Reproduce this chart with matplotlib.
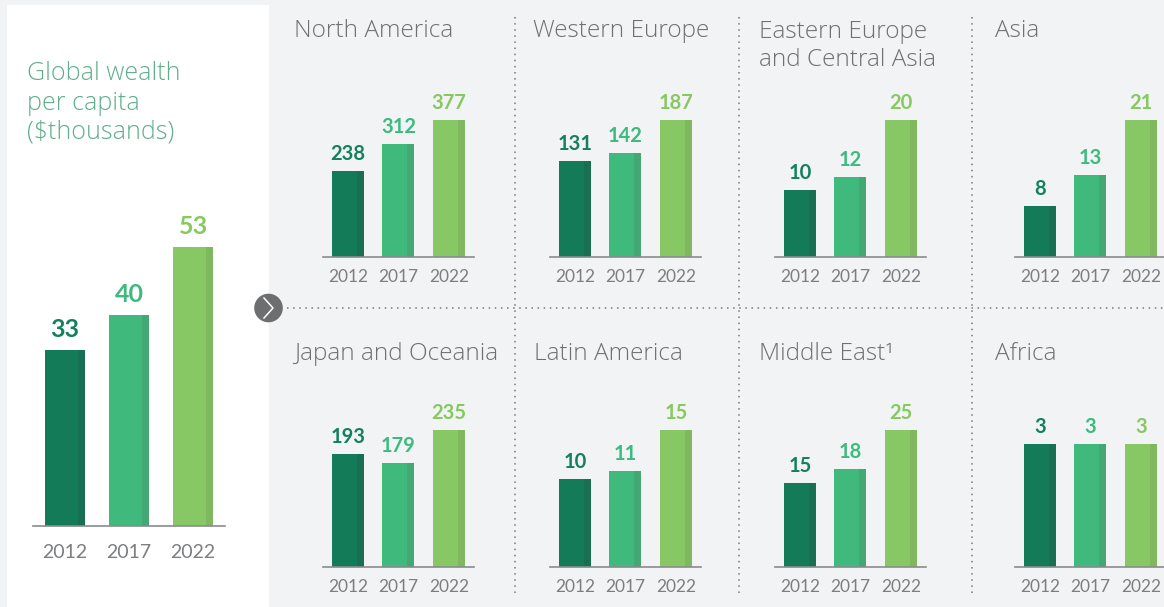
import matplotlib
matplotlib.use("Agg")
import matplotlib.pyplot as plt

plt.rcParams['font.family'] = ['Lato', 'DejaVu Sans']

W, H = 1164, 607
BG = '#f1f3f5'
COLORS = ['#147b58', '#3fba7c', '#88c864']
SHADES = ['#196f52', '#43a874', '#80b85f']
LABEL_COLORS = ['#14805c', '#3dbb7f', '#85c95f']
TICK = '#7c7e80'
TITLE = '#6f7072'
LIGHT = ['Open Sans', 'DejaVu Sans']

years = ['2012', '2017', '2022']

global_vals = [33.4, 40.1, 53]
north_america = [238, 312, 377]
western_europe = [131, 142, 187]
eastern_europe = [9.8, 11.7, 20]
asia = [7.8, 12.6, 21]
japan_oceania = [193, 179, 235]
latin_america = [9.6, 10.51, 15]
middle_east = [15.3, 17.8, 25]
africa = [3, 3, 3]

panels = [
    (north_america, 332, 257, 137, 'North America', 294, 31),
    (western_europe, 559, 257, 137, 'Western Europe', 533, 31),
    (eastern_europe, 784, 257, 137, 'Eastern Europe\nand Central Asia', 759, 46),
    (asia, 1024, 257, 137, 'Asia', 995, 31),
    (japan_oceania, 332, 567, 137, 'Japan and Oceania', 294, 354),
    (latin_america, 559, 567, 137, 'Latin America', 534, 354),
    (middle_east, 784, 567, 137, 'Middle East\u00b9', 759, 354),
    (africa, 1024, 567, 123, 'Africa', 995, 354),
]

fig = plt.figure(figsize=(W / 100, H / 100), dpi=100, facecolor=BG)

over = fig.add_axes([0, 0, 1, 1], zorder=0)
over.set_xlim(0, W)
over.set_ylim(H, 0)
over.axis('off')
over.add_patch(plt.Rectangle((7, 5), 262, 602, fc='white', ec='none'))
for xv in (515, 739, 972):
    over.plot([xv, xv], [17, 597], color='#77787a', lw=1.1, ls=(0, (1, 3)))
over.plot([287, W], [308, 308], color='#77787a', lw=1.1, ls=(0, (1, 3)))
over.add_patch(plt.Circle((268.5, 308), 14.3, fc='#6d6e6f', ec='none', zorder=5))
over.plot([264, 273, 264], [298, 308, 318], color='white', lw=1.1, zorder=6)


def draw_panel(vals, left, base, tallest, width, pitch, strip, pad, num_fs, tick_fs, tick_off, num_off):
    x0 = left - pad
    total = 2 * pitch + width + 2 * pad
    ax = fig.add_axes([x0 / W, (H - base) / H, total / W, tallest / H], zorder=2)
    ax.patch.set_alpha(0)
    xs = [pad + width / 2 + i * pitch for i in range(3)]
    ax.set_xlim(0, total)
    ax.set_ylim(0, max(vals))
    for i, v in enumerate(vals):
        ax.bar(xs[i], v, width, color=COLORS[i], lw=0, clip_on=False)
        ax.bar(xs[i] + width / 2 - strip / 2, v, strip, color=SHADES[i], lw=0, clip_on=False)
        ax.annotate(f'{v:.0f}', (xs[i], v), xytext=(0, num_off), textcoords='offset pixels',
                    ha='center', va='bottom', fontsize=num_fs, fontweight='bold',
                    color=LABEL_COLORS[i], annotation_clip=False)
    ax.set_xticks(xs, years)
    ax.set_yticks([])
    ax.tick_params(axis='x', length=0, pad=tick_off, labelsize=tick_fs, labelcolor=TICK)
    for s in ('top', 'left', 'right'):
        ax.spines[s].set_visible(False)
    ax.spines['bottom'].set_color('#8a8b8d')
    ax.spines['bottom'].set_linewidth(1.2)
    return ax


draw_panel(global_vals, 45, 526, 279, 40, 64, 7, 12, 18, 14, 13, 9)
for vals, left, base, tallest, title, tx, ty in panels:
    draw_panel(vals, left, base, tallest, 32, 50.4, 7, 9, 14.5, 12.5, 9, 7)
    over.text(tx, ty, title, fontsize=17.6, fontweight='light', family=LIGHT, color=TITLE,
              ha='left', va='center', linespacing=1.2)

over.text(27, 103, 'Global wealth\nper capita\n($thousands)', fontsize=18, fontweight='light', family=LIGHT,
          color='#5fae8c', ha='left', va='center', linespacing=1.22)

fig.savefig('out.png', dpi=100, facecolor=BG)
